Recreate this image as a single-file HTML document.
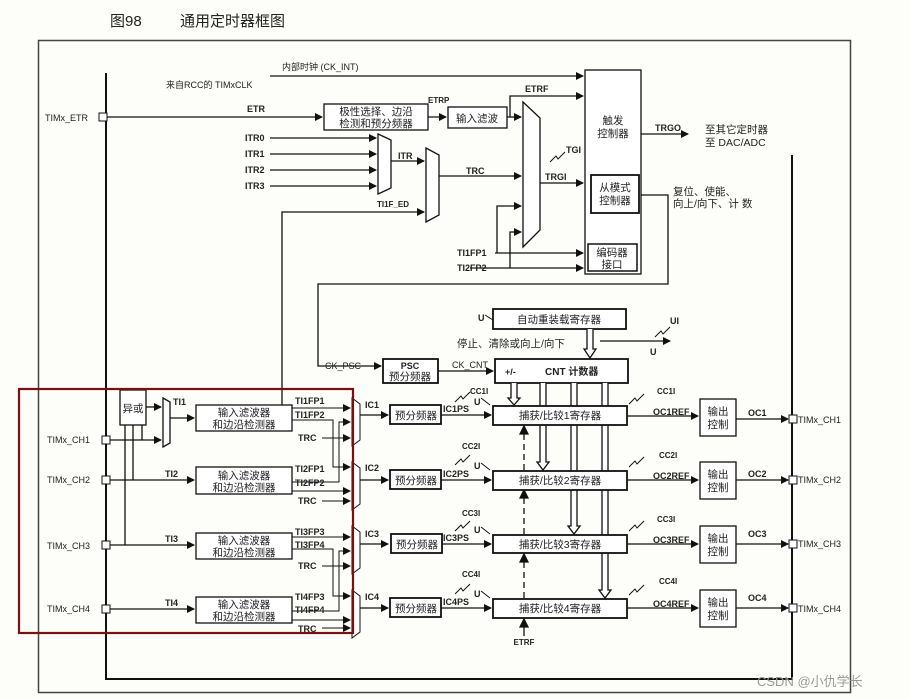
<!DOCTYPE html>
<html><head><meta charset="utf-8"><style>
html,body{margin:0;padding:0;background:#fdfdf9;}
svg{display:block;}
text{font-family:"Liberation Sans","Noto Sans CJK SC",sans-serif;fill:#222;}
.b{font-weight:bold;font-size:9px;}
.n{font-size:9px;}
.c{font-size:10.5px;}
</style></head><body>
<svg width="909" height="699" viewBox="0 0 909 699" xmlns="http://www.w3.org/2000/svg">
<defs>
<marker id="a" markerWidth="8" markerHeight="8" refX="7" refY="4" orient="auto" markerUnits="userSpaceOnUse"><path d="M0,0 L8,4 L0,8z" fill="#111"/></marker>
</defs>
<rect width="909" height="699" fill="#fdfdf9"/>
<text x="110" y="26" style="font-size:15px">图98</text>
<text x="180" y="26" style="font-size:15px">通用定时器框图</text>
<rect x="38.5" y="40.5" width="812" height="652" fill="none" stroke="#444" stroke-width="1.5"/>
<g stroke="#111" stroke-width="1.3" fill="none">
<path d="M106,73 V679 H792 V155" stroke-width="2"/>
<path d="M270,76 H583" marker-end="url(#a)"/>
<path d="M107,117 H322" marker-end="url(#a)"/>
<path d="M428,117 H446" marker-end="url(#a)"/>
<path d="M507,117 H521" marker-end="url(#a)"/>
<path d="M510,117 V96 H583" marker-end="url(#a)"/>
<path d="M270,138 H376" marker-end="url(#a)"/>
<path d="M270,154 H376" marker-end="url(#a)"/>
<path d="M270,170 H376" marker-end="url(#a)"/>
<path d="M270,186 H376" marker-end="url(#a)"/>
<path d="M391,161 H424" marker-end="url(#a)"/>
<path d="M282,405 V212 H424" marker-end="url(#a)"/>
<path d="M439,176 H521" marker-end="url(#a)"/>
<path d="M540,183 H583" marker-end="url(#a)"/>
<path d="M495,253 H583" marker-end="url(#a)"/>
<path d="M470,268 H583" marker-end="url(#a)"/>
<path d="M497,253 V206 H521" marker-end="url(#a)"/>
<path d="M510,268 V232 H521" marker-end="url(#a)"/>
<path d="M641,134 H688" marker-end="url(#a)"/>
<path d="M639,195 H668 V284 H318 V366 H381" marker-end="url(#a)"/>
<path d="M438,371 H493" marker-end="url(#a)"/>
<path d="M600,341 H670" marker-end="url(#a)"/>
<path d="M523,102 L540,118 V230 L523,247 Z" fill="#fff"/>
<path d="M378,134 L391,140 V188 L378,194 Z" fill="#fff"/>
<path d="M426,148 L439,155 V215 L426,222 Z" fill="#fff"/>
<rect x="324" y="104" width="104" height="26" fill="#fff"/>
<rect x="448" y="107" width="59" height="21" fill="#fff"/>
<rect x="585" y="70" width="56" height="204" fill="#fff"/>
<rect x="591" y="175" width="48" height="38" stroke-width="1.8"/>
<rect x="588" y="244" width="49" height="27" stroke-width="1.5"/>
<rect x="383" y="359" width="55" height="24" stroke-width="1.8" fill="#fff"/>
<rect x="495" y="359" width="133" height="24" stroke-width="1.8" fill="#fff"/>
<rect x="493" y="309" width="133" height="20" stroke-width="1.8" fill="#fff"/>
<path d="M587,329 V349 H584 L590,358 L596,349 H593 V329" fill="#fff"/>
<path d="M511,383 V398 H508 L514,405 L520,398 H517 V383" fill="#fff"/>
<path d="M540,383 V462 H537 L543,470 L549,462 H546 V383" fill="#fff"/>
<path d="M571,383 V526 H568 L574,534 L580,526 H577 V383" fill="#fff"/>
<path d="M602,383 V590 H599 L605,598 L611,590 H608 V383" fill="#fff"/>
<path d="M524,470 V428" stroke-dasharray="6,4"/>
<path d="M524,534 V492" stroke-dasharray="6,4"/>
<path d="M524,598 V556" stroke-dasharray="6,4"/>
<path d="M524,636 V621"/>
<path d="M520,434 L524,426 L528,434Z M520,498 L524,490 L528,498Z M520,562 L524,554 L528,562Z M520,627 L524,619 L528,627Z" fill="#111"/>
<rect x="120" y="390" width="26" height="35" fill="#fff"/>
<path d="M146,407 H161" marker-end="url(#a)"/>
<path d="M163,398 L170,402 V443 L163,447 Z" fill="#fff"/>
<path d="M110,440 H161" marker-end="url(#a)"/>
<path d="M125,425 V545 M133,425 V480 M142,425 V440"/>
<path d="M170,418 H194" marker-end="url(#a)"/>
<path d="M110,480 H194" marker-end="url(#a)"/>
<path d="M110,545 H194" marker-end="url(#a)"/>
<path d="M110,609 H194" marker-end="url(#a)"/>
<rect x="196" y="405" width="96" height="26" fill="#fff"/>
<rect x="196" y="467" width="96" height="27" fill="#fff"/>
<rect x="196" y="533" width="96" height="26" fill="#fff"/>
<rect x="196" y="597" width="96" height="26" fill="#fff"/>
</g>
<g stroke="#111" stroke-width="1" fill="none">
<path d="M292,408 H350" marker-end="url(#a)"/>
<path d="M292,420 H333 V467 H350" marker-end="url(#a)"/>
<path d="M322,438 H350" marker-end="url(#a)"/>
<path d="M292,482 H339 V422 H350" marker-end="url(#a)"/>
<path d="M292,491 H350" marker-end="url(#a)"/>
<path d="M322,501 H350" marker-end="url(#a)"/>
<path d="M292,537 H350" marker-end="url(#a)"/>
<path d="M292,549 H333 V596 H350" marker-end="url(#a)"/>
<path d="M322,566 H350" marker-end="url(#a)"/>
<path d="M292,611 H339 V551 H350" marker-end="url(#a)"/>
<path d="M292,620 H350" marker-end="url(#a)"/>
<path d="M322,628 H350" marker-end="url(#a)"/>
<path d="M352,398 L360,404 V440 L352,446 Z M352,462 L360,468 V504 L352,510 Z M352,526 L360,532 V568 L352,574 Z M352,590 L360,596 V632 L352,638 Z" fill="#fff"/>
</g>
<g stroke="#111" stroke-width="1.3" fill="none">
<path d="M360,415 H388" marker-end="url(#a)"/><path d="M441,415 H491" marker-end="url(#a)"/>
<path d="M360,480 H388" marker-end="url(#a)"/><path d="M441,480 H491" marker-end="url(#a)"/>
<path d="M360,544 H388" marker-end="url(#a)"/><path d="M441,544 H491" marker-end="url(#a)"/>
<path d="M360,608 H388" marker-end="url(#a)"/><path d="M441,608 H491" marker-end="url(#a)"/>
<rect x="390" y="405" width="51" height="19" stroke-width="1.8" fill="#fff"/>
<rect x="390" y="470" width="51" height="19" stroke-width="1.8" fill="#fff"/>
<rect x="391" y="534" width="51" height="19" stroke-width="1.8" fill="#fff"/>
<rect x="390" y="598" width="51" height="19" stroke-width="1.8" fill="#fff"/>
<rect x="493" y="406" width="134" height="19" stroke-width="1.8" fill="#fff"/>
<rect x="493" y="471" width="134" height="19" stroke-width="1.8" fill="#fff"/>
<rect x="493" y="535" width="134" height="18" stroke-width="1.8" fill="#fff"/>
<rect x="493" y="599" width="134" height="19" stroke-width="1.8" fill="#fff"/>
<path d="M627,416 H698" marker-end="url(#a)"/><path d="M736,419 H788" marker-end="url(#a)"/>
<path d="M627,480 H698" marker-end="url(#a)"/><path d="M736,480 H788" marker-end="url(#a)"/>
<path d="M627,544 H698" marker-end="url(#a)"/><path d="M736,544 H788" marker-end="url(#a)"/>
<path d="M627,608 H698" marker-end="url(#a)"/><path d="M736,608 H788" marker-end="url(#a)"/>
<rect x="700" y="399" width="36" height="37" fill="#fff"/>
<rect x="700" y="462" width="36" height="37" fill="#fff"/>
<rect x="700" y="526" width="36" height="37" fill="#fff"/>
<rect x="700" y="590" width="36" height="37" fill="#fff"/>
</g>
<g fill="#fff" stroke="#111" stroke-width="1">
<rect x="99" y="113" width="8" height="8"/>
<rect x="102" y="436" width="8" height="8"/><rect x="102" y="476" width="8" height="8"/><rect x="102" y="541" width="8" height="8"/><rect x="102" y="605" width="8" height="8"/>
<rect x="789" y="415" width="8" height="8"/><rect x="789" y="476" width="8" height="8"/><rect x="789" y="540" width="8" height="8"/><rect x="789" y="604" width="8" height="8"/>
</g>
<g stroke="#111" stroke-width="1" fill="none">
<path d="M550,162 L556,156 L558,159 L565,152"/>
<path d="M655,337 L661,331 L663,334 L670,327"/>
<path d="M455,402 L461,396 L463,399 L470,392 M455,465 L461,459 L463,462 L470,455 M455,531 L461,525 L463,528 L470,521 M455,594 L461,588 L463,591 L470,584"/>
<path d="M629,404 L635,398 L637,401 L644,394 M629,467 L635,461 L637,464 L644,457 M629,531 L635,525 L637,528 L644,521 M629,595 L635,589 L637,592 L644,585"/>
<path d="M481,398 L490,405 M481,463 L490,470 M481,527 L490,534 M481,591 L490,598 M485,315 L493,320"/>
</g>
<rect x="19" y="389" width="334" height="244" fill="none" stroke="#7a1010" stroke-width="2.2"/>
<text x="282" y="70" class="n">内部时钟 (CK_INT)</text>
<text x="166" y="88" class="n">来自RCC的 TIMxCLK</text>
<text x="45" y="121" class="n">TIMx_ETR</text>
<text x="247" y="112" class="b">ETR</text>
<text x="376" y="115" class="c" text-anchor="middle">极性选择、边沿</text>
<text x="376" y="127" class="c" text-anchor="middle">检测和预分频器</text>
<text x="428" y="103" class="b" style="font-size:8px">ETRP</text>
<text x="477" y="122" class="c" text-anchor="middle">输入滤波</text>
<text x="525" y="92" class="b">ETRF</text>
<text x="245" y="141" class="b">ITR0</text><text x="245" y="157" class="b">ITR1</text><text x="245" y="173" class="b">ITR2</text><text x="245" y="189" class="b">ITR3</text>
<text x="398" y="159" class="b">ITR</text>
<text x="377" y="207" class="b" style="font-size:8px">TI1F_ED</text>
<text x="466" y="174" class="b">TRC</text>
<text x="545" y="180" class="b">TRGI</text>
<text x="566" y="153" class="b">TGI</text>
<text x="457" y="256" class="b">TI1FP1</text>
<text x="457" y="271" class="b">TI2FP2</text>
<text x="613" y="124" class="c" text-anchor="middle">触发</text>
<text x="613" y="137" class="c" text-anchor="middle">控制器</text>
<text x="615" y="191" class="c" text-anchor="middle">从模式</text>
<text x="615" y="204" class="c" text-anchor="middle">控制器</text>
<text x="612" y="256" class="c" text-anchor="middle">编码器</text>
<text x="612" y="268" class="c" text-anchor="middle">接口</text>
<text x="655" y="131" class="b">TRGO</text>
<text x="705" y="133" class="c">至其它定时器</text>
<text x="705" y="146" class="c">至 DAC/ADC</text>
<text x="673" y="195" class="c">复位、使能、</text>
<text x="673" y="207" class="c">向上/向下、计 数</text>
<text x="559" y="323" class="c" text-anchor="middle">自动重装载寄存器</text>
<text x="478" y="321" class="b">U</text>
<text x="457" y="347" class="c">停止、清除或向上/向下</text>
<text x="670" y="324" class="b">UI</text>
<text x="650" y="355" class="b">U</text>
<text x="325" y="369" class="n">CK_PSC</text>
<text x="410" y="369" class="b" text-anchor="middle">PSC</text>
<text x="410" y="380" class="c" text-anchor="middle">预分频器</text>
<text x="452" y="368" class="n">CK_CNT</text>
<text x="505" y="375" class="b">+/-</text>
<text x="545" y="375" class="b" style="font-size:10px">CNT 计数器</text>
<text x="133" y="412" class="c" text-anchor="middle">异或</text>
<text x="173" y="405" class="b">TI1</text>
<text x="165" y="477" class="b">TI2</text><text x="165" y="542" class="b">TI3</text><text x="165" y="606" class="b">TI4</text>
<text x="47" y="443" class="n">TIMx_CH1</text><text x="47" y="483" class="n">TIMx_CH2</text><text x="47" y="549" class="n">TIMx_CH3</text><text x="47" y="612" class="n">TIMx_CH4</text>
<g class="c" text-anchor="middle">
<text x="244" y="416">输入滤波器</text><text x="244" y="428">和边沿检测器</text>
<text x="244" y="479">输入滤波器</text><text x="244" y="491">和边沿检测器</text>
<text x="244" y="544">输入滤波器</text><text x="244" y="556">和边沿检测器</text>
<text x="244" y="608">输入滤波器</text><text x="244" y="620">和边沿检测器</text>
</g>
<text x="295" y="404" class="b">TI1FP1</text><text x="295" y="418" class="b">TI1FP2</text><text x="298" y="441" class="b">TRC</text>
<text x="295" y="472" class="b">TI2FP1</text><text x="295" y="486" class="b">TI2FP2</text><text x="298" y="504" class="b">TRC</text>
<text x="295" y="535" class="b">TI3FP3</text><text x="295" y="548" class="b">TI3FP4</text><text x="298" y="569" class="b">TRC</text>
<text x="295" y="600" class="b">TI4FP3</text><text x="295" y="613" class="b">TI4FP4</text><text x="298" y="632" class="b">TRC</text>
<text x="365" y="408" class="b">IC1</text><text x="365" y="471" class="b">IC2</text><text x="365" y="537" class="b">IC3</text><text x="365" y="600" class="b">IC4</text>
<g class="c" text-anchor="middle"><text x="416" y="419">预分频器</text><text x="416" y="484">预分频器</text><text x="417" y="548">预分频器</text><text x="416" y="612">预分频器</text></g>
<text x="443" y="412" class="b">IC1PS</text><text x="443" y="477" class="b">IC2PS</text><text x="443" y="541" class="b">IC3PS</text><text x="443" y="605" class="b">IC4PS</text>
<text x="470" y="394" class="b" style="font-size:8px">CC1I</text><text x="462" y="449" class="b" style="font-size:8px">CC2I</text><text x="462" y="516" class="b" style="font-size:8px">CC3I</text><text x="462" y="577" class="b" style="font-size:8px">CC4I</text>
<text x="474" y="405" class="b">U</text><text x="474" y="469" class="b">U</text><text x="474" y="533" class="b">U</text><text x="474" y="597" class="b">U</text>
<g class="c" text-anchor="middle"><text x="560" y="419">捕获/比较1寄存器</text><text x="560" y="484">捕获/比较2寄存器</text><text x="560" y="548">捕获/比较3寄存器</text><text x="560" y="612">捕获/比较4寄存器</text></g>
<text x="524" y="645" class="b" text-anchor="middle" style="font-size:8px">ETRF</text>
<text x="657" y="394" class="b" style="font-size:8px">CC1I</text><text x="659" y="458" class="b" style="font-size:8px">CC2I</text><text x="657" y="522" class="b" style="font-size:8px">CC3I</text><text x="659" y="584" class="b" style="font-size:8px">CC4I</text>
<text x="653" y="415" class="b">OC1REF</text><text x="653" y="479" class="b">OC2REF</text><text x="653" y="543" class="b">OC3REF</text><text x="653" y="607" class="b">OC4REF</text>
<g class="c" text-anchor="middle">
<text x="718" y="415">输出</text><text x="718" y="428">控制</text>
<text x="718" y="478">输出</text><text x="718" y="491">控制</text>
<text x="718" y="542">输出</text><text x="718" y="555">控制</text>
<text x="718" y="606">输出</text><text x="718" y="619">控制</text>
</g>
<text x="748" y="416" class="b">OC1</text><text x="748" y="477" class="b">OC2</text><text x="748" y="537" class="b">OC3</text><text x="748" y="601" class="b">OC4</text>
<text x="798" y="423" class="n">TIMx_CH1</text><text x="798" y="483" class="n">TIMx_CH2</text><text x="798" y="547" class="n">TIMx_CH3</text><text x="798" y="612" class="n">TIMx_CH4</text>
<text x="757" y="686" style="font-size:13px;fill:#999">CSDN @小仇学长</text>
</svg>
</body></html>
